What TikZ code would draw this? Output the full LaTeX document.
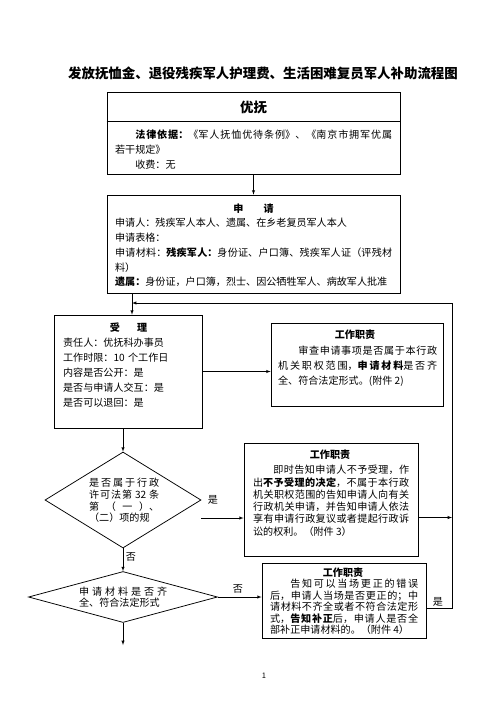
\documentclass[tikz,border=0pt]{standalone}
\usepackage{fontspec}
\setmainfont{Noto Sans CJK SC}
\usetikzlibrary{shapes.geometric,calc}
\XeTeXlinebreaklocale "zh"
\XeTeXlinebreakskip=0pt plus 2pt
\tolerance=9999
\hbadness=10000
\newlength\px
\setlength\px{1.1906pt}
\tikzset{>=latex}
\tikzset{box/.style={draw,line width=0.9pt,inner sep=0pt}}
\tikzset{dia/.style={draw,diamond,line width=0.9pt,inner sep=0pt}}
\tikzset{body/.style={inner sep=0pt,anchor=base west,font=\fontsize{12pt}{#1}\selectfont}}
\tikzset{head/.style={inner sep=0pt,font=\bfseries\fontsize{12pt}{14pt}\selectfont}}
\tikzset{lbl/.style={inner sep=0pt,font=\fontsize{12pt}{14pt}\selectfont}}
\tikzset{arr/.style={->,line width=0.8pt}}

\begin{document}
\begin{tikzpicture}[x=1.1906pt,y=-1.1906pt]
  \fill[white] (0,0) rectangle (500,707);
  \useasboundingbox (0,0) rectangle (500,707);
  % Title
  \node[font=\bfseries\fontsize{16pt}{18pt}\selectfont] (title) at (263,73)
    {发放抚恤金、退役残疾军人护理费、生活困难复员军人补助流程图};
  % Boxes
  \node[box,minimum width=293\px,minimum height=82\px] (youfu) at (253.5,133) {};
  \node[box,minimum width=293\px,minimum height=98\px] (apply) at (253.5,244) {};
  \node[box,minimum width=148\px,minimum height=113\px] (accept) at (128,371.5) {};
  \node[box,minimum width=172\px,minimum height=83\px] (duty1) at (357,364.5) {};
  \node[dia,minimum width=156\px,minimum height=96\px] (check1) at (123,500) {};
  \node[box,minimum width=174\px,minimum height=113\px] (duty2) at (331,499.5) {};
  \node[dia,minimum width=189\px,minimum height=51\px] (check2) at (123,597) {};
  \node[box,minimum width=164\px,minimum height=75\px] (duty3) at (344,600.5) {};
  \draw[line width=0.9pt] ([yshift=-30\px]youfu.north west) -- ([yshift=-30\px]youfu.north east);
  % Texts
  \node[font=\bfseries\fontsize{16pt}{18pt}\selectfont] (youfuhead) at (253.5,108) {优抚};
  \node[body=17.9pt,text width=277\px,align=justify] (youfutext) at (115,138)
    {\hspace*{2em}\textbf{法律依据：}《军人抚恤优待条例》、《南京市拥军优属\linebreak
     若干规定》\\
     \hspace*{2em}收费：无};
  \node[head] (applyhead) at (253.5,209) {申\hspace{2em}请};
  \node[body=17.6pt,text width=277\px,align=justify] (applytext) at (115,226.8)
    {申请人：残疾军人本人、遗属、在乡老复员军人本人\\
     申请表格：\\
     申请材料：\textbf{残疾军人：}身份证、户口簿、残疾军人证（评残材\linebreak
     料）\\
     \textbf{遗属：}身份证，户口簿，烈士、因公牺牲军人、病故军人批准\parfillskip=0pt};
  \node[head] (accepthead) at (128.5,328) {受\hspace{1.7em}理};
  \node[body=17.9pt,text width=135\px,align=left] (accepttext) at (63,346.8)
    {责任人：优抚科办事员\\
     工作时限：10 个工作日\\
     内容是否公开：是\\
     是否与申请人交互：是\\
     是否可以退回：是};
  \node[head] (duty1head) at (355,335) {工作职责};
  \node[body=17.9pt,text width=159\px,align=justify] (duty1text) at (278,354.8)
    {\hspace*{2em}审查申请事项是否属于本行政\linebreak
     机关职权范围，\textbf{申请材料}是否齐\linebreak
     全、符合法定形式。(附件 2)};
  \node[body=13.9pt,text width=70\px,align=justify] (check1text) at (89,486.8)
    {是否属于行政\linebreak 许可法第 32 条\linebreak
     第\hfill（\hfill 一\hfill）、\linebreak （二）项的规\parfillskip=0pt};
  \node[head] (duty2head) at (330,455) {工作职责};
  \node[body=14.6pt,text width=156\px,align=justify] (duty2text) at (253,473.8)
    {\hspace*{2em}即时告知申请人不予受理，作\linebreak
     出\textbf{不予受理的决定}，不属于本行政\linebreak
     机关职权范围的告知申请人向有关\linebreak
     行政机关申请，并告知申请人依法\linebreak
     享有申请行政复议或者提起行政诉\linebreak
     讼的权利。（附件 3）};
  \node[body=13.1pt,text width=88\px,align=justify] (check2text) at (79,595.8)
    {申请材料是否齐\linebreak 全、符合法定形式\parfillskip=0pt};
  \node[head] (duty3head) at (343,573) {工作职责};
  \node[body=13.7pt,text width=148\px,align=justify] (duty3text) at (270,587.8)
    {\hspace*{2em}告知可以当场更正的错误\linebreak
     后，申请人当场是否更正的；中\linebreak
     请材料不齐全或者不符合法定形\linebreak
     式，\textbf{告知补正}后，申请人是否全\linebreak
     部补正申请材料的。（附件 4）};
  % Lines
  \coordinate (back) at (132,303);
  \coordinate (side) at (452,303);
  \coordinate (next) at (123,645);
  \draw[arr] (youfu) -- (apply);
  \draw[arr] (apply.south -| back) -- (accept.north -| back);
  \draw[arr] (accept.east) -- (accept.east -| duty1.west);
  \draw[arr] (accept.south -| check1) -- (check1.north);
  \draw[arr] ([yshift=-18\px]check1.east) -- ([yshift=-18\px]check1.east -| duty2.west);
  \draw[arr] ([yshift=-18\px]duty2.east) -- ([yshift=-18\px]duty2.east -| side);
  \draw[arr] (check1) -- (check2);
  \draw[arr] (check2.east) -- (check2.east -| duty3.west);
  \draw[arr] (check2) -- (next);
  \draw[arr] ([yshift=-7.5\px]duty3.east) -- ([yshift=-7.5\px]duty3.east -| side) -- (side) -- (back);
  \node[lbl] (yes1) at (213,500) {是};
  \node[lbl] (no1) at (131,557) {否};
  \node[lbl] (no2) at (238,589) {否};
  \node[lbl] (yes2) at (438,602) {是};
  \node[font=\fontsize{9pt}{10pt}\selectfont] (page) at (264,676) {1};
\end{tikzpicture}
\end{document}
